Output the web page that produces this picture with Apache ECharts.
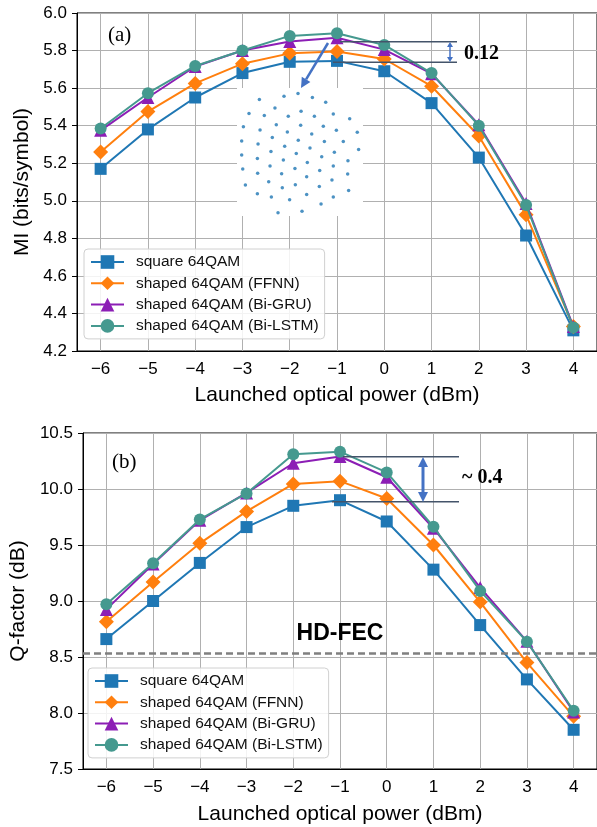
<!DOCTYPE html>
<html>
<head>
<meta charset="utf-8">
<script src="https://cdn.jsdelivr.net/npm/echarts@6/dist/echarts.min.js"></script>
<style>
  html, body { margin: 0; padding: 0; background: #fff; }
  #main { width: 597px; height: 827px; }
</style>
</head>
<body>
<div id="main"></div>
<script>
// launched power, dBm
var powers = ['\u22126', '\u22125', '\u22124', '\u22123', '\u22122', '\u22121', '0', '1', '2', '3', '4'];

// (a) MI, bits/symbol
var miSquare = [5.17, 5.38, 5.55, 5.68, 5.74, 5.745, 5.69, 5.52, 5.23, 4.815, 4.31];
var miFfnn   = [5.26, 5.475, 5.625, 5.73, 5.785, 5.795, 5.755, 5.61, 5.345, 4.925, 4.33];
var miBiGru  = [5.375, 5.55, 5.715, 5.80, 5.848, 5.868, 5.805, 5.677, 5.405, 4.985, 4.33];
var miBiLstm = [5.385, 5.573, 5.718, 5.80, 5.878, 5.892, 5.83, 5.68, 5.40, 4.977, 4.325];

// (b) Q-factor, dB
var qSquare = [8.66, 9.0, 9.34, 9.66, 9.85, 9.90, 9.71, 9.28, 8.785, 8.30, 7.85];
var qFfnn   = [8.815, 9.17, 9.515, 9.80, 10.045, 10.07, 9.915, 9.50, 8.99, 8.45, 7.97];
var qBiGru  = [8.925, 9.33, 9.72, 9.965, 10.23, 10.29, 10.105, 9.65, 9.12, 8.64, 8.01];
var qBiLstm = [8.97, 9.337, 9.728, 9.96, 10.31, 10.333, 10.148, 9.663, 9.09, 8.637, 8.02];

var hdFec = 8.53;

// shaped 64QAM constellation shown in the inset (I, Q)
var constellation = [
  [-0.15, 4.58], [-1.2, 4.38], [-3.05, 4.13], [0.93, 4.28], [1.93, 3.93],
  [-1.88, 3.5], [-3.83, 3.08], [-2.68, 2.93], [-0.88, 2.88], [0.08, 3.25], [1.08, 2.88], [2.5, 3.05], [3.73, 2.7],
  [-4.25, 2.1], [-3.0, 1.85], [-1.78, 2.25], [-0.95, 1.7], [0.05, 2.2], [0.88, 1.55], [1.75, 2.13], [2.73, 1.83], [4.3, 1.68],
  [-4.38, 1.03], [-3.15, 0.8], [-2.08, 1.28], [-1.15, 0.63], [-0.13, 1.08], [0.75, 0.5], [1.83, 0.98], [3.25, 0.98], [4.4, 0.38],
  [-4.38, -0.03], [-3.2, -0.28], [-2.18, 0.23], [-1.25, -0.4], [-0.28, 0.08], [0.55, -0.58], [1.63, -0.15], [2.58, 0.18], [3.6, -0.45],
  [-4.3, -1.08], [-3.18, -1.4], [-2.25, -0.85], [-1.38, -1.43], [-0.38, -1.03], [0.5, -1.65], [1.48, -1.18], [2.5, -0.85], [3.58, -1.45],
  [-4.1, -2.28], [-3.2, -2.93], [-2.35, -2.03], [-1.33, -2.48], [-0.35, -2.25], [0.5, -2.98], [1.45, -2.38], [2.4, -1.9], [3.65, -2.68],
  [-2.15, -3.18], [-0.78, -3.38], [1.58, -3.7], [2.5, -3.18],
  [-1.65, -4.35], [0.15, -4.25]
];

var names = ['square 64QAM', 'shaped 64QAM (FFNN)', 'shaped 64QAM (Bi-GRU)', 'shaped 64QAM (Bi-LSTM)'];
var colors = ['#1f77b4', '#ff7f0e', '#8c1eb5', '#45998f'];
var symbols = ['rect', 'diamond', 'triangle', 'circle'];
var symbolSizes = [12, 15, 13, 12];

var sansFont = '"Liberation Sans", Arial, sans-serif';
var serifFont = '"Liberation Serif", "Times New Roman", serif';

function lineSeries(i, axisIdx, values) {
  return {
    type: 'line',
    name: names[i],
    xAxisIndex: axisIdx,
    yAxisIndex: axisIdx,
    data: values,
    symbol: symbols[i],
    symbolSize: symbolSizes[i],
    color: colors[i],
    lineStyle: { width: 2 },
    itemStyle: { color: colors[i] },
    z: 3 + i
  };
}

function xAxisOf(gridIdx, gap) {
  return {
    type: 'category',
    gridIndex: gridIdx,
    data: powers,
    boundaryGap: true,
    name: 'Launched optical power (dBm)',
    nameLocation: 'middle',
    nameGap: gap,
    nameTextStyle: { fontFamily: sansFont, fontSize: 21, color: '#000' },
    axisLine: { lineStyle: { color: '#000', width: 1 } },
    axisTick: { alignWithLabel: true, length: 5, lineStyle: { color: '#000' } },
    axisLabel: { fontFamily: sansFont, fontSize: 17, color: '#000', margin: 10 },
    splitLine: { show: true, alignWithLabel: true, lineStyle: { color: '#b0b0b0', width: 1 } }
  };
}

function yAxisOf(gridIdx, name, min, max, step, gap) {
  return {
    type: 'value',
    gridIndex: gridIdx,
    min: min,
    max: max,
    interval: step,
    name: name,
    nameLocation: 'middle',
    nameGap: gap,
    nameTextStyle: { fontFamily: sansFont, fontSize: 21, color: '#000' },
    axisLine: { show: true, lineStyle: { color: '#000', width: 1 } },
    axisTick: { show: true, length: 5, lineStyle: { color: '#000' } },
    axisLabel: {
      fontFamily: sansFont, fontSize: 17, color: '#000', margin: 10,
      formatter: function (v) { return v.toFixed(1); }
    },
    splitLine: { show: true, lineStyle: { color: '#b0b0b0', width: 1 } }
  };
}

function legendAt(left, top) {
  return {
    data: names,
    orient: 'vertical',
    left: left,
    top: top,
    itemWidth: 33,
    itemHeight: 17,
    itemGap: 5.3,
    padding: [5, 6, 5, 6],
    backgroundColor: 'rgba(255,255,255,0.85)',
    borderColor: '#d0d0d0',
    borderWidth: 1,
    borderRadius: 4,
    textStyle: { fontFamily: sansFont, fontSize: 15.5, color: '#111', padding: [0, 0, 0, 7] }
  };
}

// double-headed vertical arrow
function dblArrow(x, y1, y2, head, half, width) {
  var c = '#4472c4';
  return [
    { type: 'line', z: 100, shape: { x1: x, y1: y1 + head * 0.8, x2: x, y2: y2 - head * 0.8 }, style: { stroke: c, lineWidth: width } },
    { type: 'polygon', z: 100, shape: { points: [[x, y1], [x - half, y1 + head], [x + half, y1 + head]] }, style: { fill: c } },
    { type: 'polygon', z: 100, shape: { points: [[x, y2], [x - half, y2 - head], [x + half, y2 - head]] }, style: { fill: c } }
  ];
}

function hLine(x1, x2, y) {
  return { type: 'line', z: 100, shape: { x1: x1, y1: y, x2: x2, y2: y }, style: { stroke: '#44546a', lineWidth: 1.5 } };
}

var graphics = [
  { type: 'text', z: 100, style: { text: '(a)', x: 108, y: 35, font: '21px ' + serifFont, fill: '#000', verticalAlign: 'middle' } },
  { type: 'text', z: 100, style: { text: '(b)', x: 112, y: 462, font: '21px ' + serifFont, fill: '#000', verticalAlign: 'middle' } },
  hLine(340, 457, 41.7), hLine(333, 457, 62.3),
  { type: 'text', z: 100, style: { text: '0.12', x: 464, y: 54, font: 'bold 20px ' + serifFont, fill: '#000', verticalAlign: 'middle' } },
  hLine(343, 459, 456.7), hLine(332, 459, 501.7),
  { type: 'text', z: 100, style: { text: '~ 0.4', x: 462, y: 478, font: 'bold 20px ' + serifFont, fill: '#000', verticalAlign: 'middle' } },
  // arrow to the inset
  { type: 'line', z: 100, shape: { x1: 328, y1: 43, x2: 306.1, y2: 79.4 }, style: { stroke: '#4472c4', lineWidth: 2.5 } },
  { type: 'polygon', z: 100, shape: { points: [[301, 88], [310.4, 82.0], [301.8, 76.8]] }, style: { fill: '#4472c4' } }
].concat(dblArrow(450, 42, 62, 5, 3, 1.5)).concat(dblArrow(423, 457, 502, 10, 5, 3));

var chart = echarts.init(document.getElementById('main'));

chart.setOption({
  animation: false,
  backgroundColor: '#fff',
  grid: [
    { left: 77, top: 13, width: 522, height: 338, show: true, borderColor: '#000', borderWidth: 1, backgroundColor: 'transparent' },
    { left: 81, top: 433, width: 520, height: 336, show: true, borderColor: '#000', borderWidth: 1, backgroundColor: 'transparent' },
    { left: 237, top: 88, width: 126, height: 128, show: true, borderWidth: 0, backgroundColor: '#fff', z: 1 }
  ],
  xAxis: [
    xAxisOf(0, 34),
    xAxisOf(1, 35),
    { type: 'value', gridIndex: 2, min: -4.73, max: 4.73, show: false }
  ],
  yAxis: [
    yAxisOf(0, 'MI (bits/symbol)', 4.2, 6.0, 0.2, 44),
    yAxisOf(1, 'Q-factor (dB)', 7.5, 10.5, 0.5, 54),
    { type: 'value', gridIndex: 2, min: -4.6, max: 5.0, show: false }
  ],
  legend: [legendAt(84, 249), legendAt(88, 668)],
  series: [
    lineSeries(0, 0, miSquare),
    lineSeries(1, 0, miFfnn),
    lineSeries(2, 0, miBiGru),
    lineSeries(3, 0, miBiLstm),
    Object.assign(lineSeries(0, 1, qSquare), {
      markLine: {
        silent: true,
        symbol: 'none',
        data: [{ yAxis: hdFec }],
        lineStyle: { type: [7, 4], color: '#808080', width: 2.5 },
        label: {
          show: true, position: 'middle', formatter: 'HD-FEC', distance: 8,
          fontFamily: sansFont, fontSize: 23, fontWeight: 'bold', color: '#000'
        }
      }
    }),
    lineSeries(1, 1, qFfnn),
    lineSeries(2, 1, qBiGru),
    lineSeries(3, 1, qBiLstm),
    {
      type: 'scatter',
      xAxisIndex: 2,
      yAxisIndex: 2,
      data: constellation,
      symbol: 'circle',
      symbolSize: 3.5,
      itemStyle: { color: '#1f77b4' },
      z: 2
    }
  ],
  graphic: graphics
});

window.onresize = chart.resize;
</script>
</body>
</html>
